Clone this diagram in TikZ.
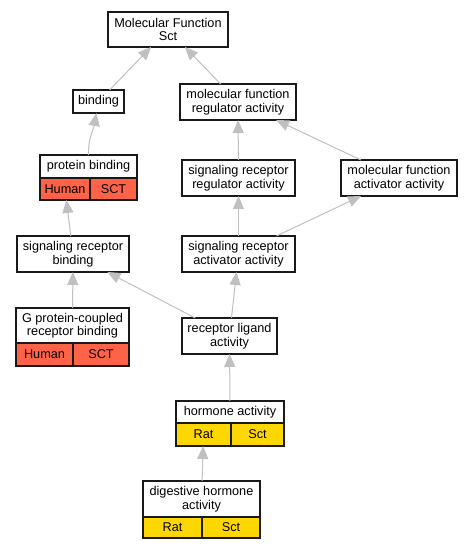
\documentclass[tikz,border=0pt]{standalone}
\usepackage{fontspec}
\setmainfont{Liberation Sans}
\usetikzlibrary{positioning,arrows.meta}
\definecolor{edgeColor}{RGB}{192,192,192}
\definecolor{humanColor}{RGB}{255,99,71}
\definecolor{ratColor}{RGB}{255,215,0}
\tikzset{
  term/.style={draw=black!90,line width=1.2pt,fill=white,inner sep=0pt,outer sep=0pt,
    align=center,font=\fontsize{12.7}{13.5}\selectfont},
  cell/.style={term,anchor=north west},
  edge/.style={draw=edgeColor,line width=1pt,-{Triangle[length=13pt,width=11pt]}}
}
\begin{document}
\begin{tikzpicture}[x=1pt,y=1pt]
\path[use as bounding box,fill=white] (0,0) rectangle (472,549);

% terms
\node[term,minimum width=120pt,minimum height=35pt] (mf) at (168.0,519.5) {Molecular Function\\Sct};
\node[term,minimum width=51pt,minimum height=23pt] (bind) at ( 98.5,447.5) {binding};
\node[term,minimum width=116pt,minimum height=36pt] (mfra) at (238.0,447.0) {molecular function\\regulator activity};
\node[term,minimum width=97pt,minimum height=23pt] (pb) at ( 88.5,382.5) {protein binding};
\node[term,minimum width=113pt,minimum height=36pt] (srra) at (238.5,371.0) {signaling receptor\\regulator activity};
\node[term,minimum width=116pt,minimum height=36pt] (mfaa) at (399.0,371.0) {molecular function\\activator activity};
\node[term,minimum width=112pt,minimum height=36pt] (srb) at ( 73.0,295.0) {signaling receptor\\binding};
\node[term,minimum width=113pt,minimum height=36pt] (sraa) at (238.5,295.0) {signaling receptor\\activator activity};
\node[term,minimum width=113pt,minimum height=35pt] (gp) at ( 72.5,223.5) {G protein-coupled\\receptor binding};
\node[term,minimum width=95pt,minimum height=36pt] (rla) at (229.5,213.0) {receptor ligand\\activity};
\node[term,minimum width=108pt,minimum height=22pt] (ha) at (230.0,137.0) {hormone activity};
\node[term,minimum width=117pt,minimum height=36pt] (dha) at (201.5, 50.0) {digestive hormone\\activity};

% organism cells
\node[cell,fill=humanColor,minimum width=50pt,minimum height=22pt,below=0pt of pb.south west,anchor=north west] (pbH) {Human};
\node[cell,fill=humanColor,minimum width=47pt,minimum height=22pt,right=0pt of pbH.north east,anchor=north west] (pbS) {SCT};
\node[cell,fill=humanColor,minimum width=57pt,minimum height=23pt,below=0pt of gp.south west,anchor=north west] (gpH) {Human};
\node[cell,fill=humanColor,minimum width=56pt,minimum height=23pt,right=0pt of gpH.north east,anchor=north west] (gpS) {SCT};
\node[cell,fill=ratColor,minimum width=55pt,minimum height=23pt,below=0pt of ha.south west,anchor=north west] (haR) {Rat};
\node[cell,fill=ratColor,minimum width=53pt,minimum height=23pt,right=0pt of haR.north east,anchor=north west] (haS) {Sct};
\node[cell,fill=ratColor,minimum width=59pt,minimum height=21pt,below=0pt of dha.south west,anchor=north west] (dhaR) {Rat};
\node[cell,fill=ratColor,minimum width=58pt,minimum height=21pt,right=0pt of dhaR.north east,anchor=north west] (dhaS) {Sct};

% is_a edges
\draw[edge] (bind) -- (mf);
\draw[edge] (mfra) -- (mf);
\draw[edge] (pb.north) to[out=92,in=-100] (bind);
\draw[edge] (srra) -- (mfra);
\draw[edge] (mfaa) -- (mfra);
\draw[edge] (srb) -- (pbH);
\draw[edge] (sraa) -- (srra);
\draw[edge] (sraa) -- (mfaa);
\draw[edge] (gp) -- (srb);
\draw[edge] (rla) -- (srb);
\draw[edge] (rla) -- (sraa);
\draw[edge] (ha) -- (rla);
\draw[edge] (dha) -- (haR);
\end{tikzpicture}
\end{document}
